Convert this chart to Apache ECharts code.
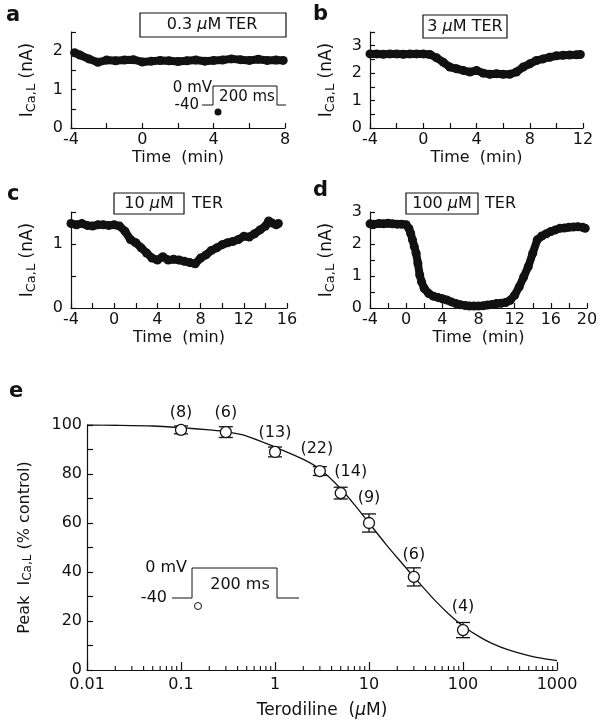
<!DOCTYPE html>
<html><head><meta charset="utf-8">
<script src="https://cdn.jsdelivr.net/npm/echarts@6/dist/echarts.min.js"></script>
<style>html,body{margin:0;padding:0;background:#fff}#c{width:601px;height:726px}</style>
</head><body><div id="c"></div>
<script>
// ---- Panel a: 0.3 uM TER ----
const aT = [-3.8,-3.5,-3,-2.5,-2,-1.5,-1,-0.5,0,0.5,1,1.5,2,2.5,3,3.5,4,4.5,5,5.5,6,6.5,7,7.5,7.9];
const aV = [1.96,1.9,1.8,1.71,1.77,1.75,1.77,1.78,1.72,1.74,1.76,1.75,1.73,1.75,1.77,1.74,1.76,1.77,1.8,1.78,1.76,1.79,1.76,1.77,1.76];
// ---- Panel b: 3 uM TER ----
const bT = [-4,-3.5,-3,-2.5,-2,-1.5,-1,-0.5,0,0.5,1,1.5,2,2.5,3,3.5,4,4.5,5,5.5,6,6.5,7,7.5,8,8.5,9,9.5,10,10.5,11,11.5,11.8];
const bV = [2.7,2.7,2.69,2.7,2.7,2.69,2.7,2.7,2.7,2.68,2.56,2.4,2.22,2.16,2.1,2.04,2.1,2.0,1.96,1.98,1.96,1.96,2.04,2.22,2.34,2.46,2.52,2.58,2.63,2.65,2.66,2.67,2.68];
// ---- Panel c: 10 uM TER ----
const cT = [-4,-3.5,-3,-2.5,-2,-1.5,-1,-0.5,0,0.5,1,1.5,2,2.5,3,3.5,4,4.5,5,5.5,6,6.5,7,7.5,8,8.5,9,9.5,10,10.5,11,11.5,12,12.5,13,13.5,14,14.3,14.6,15,15.2];
const cV = [1.32,1.3,1.32,1.29,1.28,1.3,1.3,1.29,1.3,1.28,1.2,1.07,1.02,0.94,0.86,0.78,0.75,0.8,0.75,0.76,0.75,0.73,0.71,0.69,0.78,0.83,0.9,0.94,0.99,1.02,1.04,1.07,1.12,1.11,1.16,1.22,1.28,1.36,1.33,1.3,1.32];
// ---- Panel d: 100 uM TER ----
const dT = [-4,-3.5,-3,-2.5,-2,-1.5,-1,-0.5,0,0.3,0.5,0.7,0.9,1.1,1.3,1.5,1.7,2,2.5,3,3.5,4,4.5,5,5.5,6,6.5,7,7.5,8,8.5,9,9.5,10,10.5,11,11.5,12,12.5,13,13.5,14,14.5,15,15.5,16,16.5,17,17.5,18,18.5,19,19.5,19.8];
const dV = [2.63,2.62,2.64,2.63,2.65,2.63,2.62,2.62,2.6,2.49,2.33,2.13,1.92,1.71,1.39,1.03,0.82,0.61,0.45,0.37,0.33,0.29,0.25,0.19,0.14,0.1,0.08,0.06,0.06,0.06,0.07,0.09,0.11,0.14,0.15,0.17,0.24,0.4,0.66,0.97,1.29,1.71,2.13,2.25,2.32,2.39,2.44,2.49,2.5,2.52,2.53,2.54,2.52,2.49];
// ---- Panel e: concentration-response ----
const eConc = [0.1,0.3,1,3,5,10,30,100];
const eMean = [98,97.1,89,81.2,72.2,60,38,16.3];
const eErr  = [1.6,2.2,2,1.8,2.4,3.7,3.7,3.1];
const eN    = ['(8)','(6)','(13)','(22)','(14)','(9)','(6)','(4)'];
const fitX = [0.01,0.02,0.05,0.1,0.2,0.3,0.5,1,2,3,5,7,10,15,20,30,50,70,100,150,200,300,500,700,1000];
const fitY = [100,99.9,99.6,98.9,98,97.3,95.5,91,86,82,74,67.5,60,51.5,45.8,38,28.5,23,18,13.5,11,8.3,5.9,4.7,3.8];
const eXLabels = ['0.01','0.1','1','10','100','1000'];

const FONT = "'DejaVu Sans', 'Liberation Sans', Arial, sans-serif";
const BLK = '#111';
const chart = echarts.init(document.getElementById('c'), null, {renderer:'canvas'});

const grids = [
  {left:71, top:32, width:214, height:96},
  {left:370, top:32, width:213, height:96},
  {left:71, top:212, width:216, height:96},
  {left:370, top:212, width:217, height:96},
  {left:87, top:425, width:470, height:245}
];
const axisLine = {show:true, onZero:false, lineStyle:{color:BLK, width:1.2}};
const tick = {show:true, inside:true, length:5, lineStyle:{color:BLK, width:1.2}};
const lab = {color:BLK, fontFamily:FONT, fontSize:16};
const yName = {
  fontFamily:FONT, color:BLK,
  rich:{n:{fontSize:17, fontFamily:FONT, color:BLK}, s:{fontSize:13, fontFamily:FONT, color:BLK, padding:[8,0,0,0]}}
};
function timeX(i, max){
  return {type:'value', gridIndex:i, min:-4, max:max, interval:2,
    axisLine, axisTick:tick, splitLine:{show:false},
    axisLabel:Object.assign({margin:4, formatter:v=> (v%4===0? String(v):'')}, lab),
    name:'Time  (min)', nameLocation:'middle', nameGap:22,
    nameTextStyle:{fontFamily:FONT, fontSize:16, color:BLK}};
}
function curY(i, max){
  return {type:'value', gridIndex:i, min:0, max:max, interval:0.5,
    axisLine, axisTick:tick, splitLine:{show:false},
    axisLabel:Object.assign({margin:8, formatter:v=> (Number.isInteger(v)? String(v):'')}, lab),
    name:'{n|I}{s|Ca,L}{n| (nA)}', nameLocation:'middle', nameGap:33, nameTextStyle:yName};
}
function trace(i, T, V){
  return {type:'line', xAxisIndex:i, yAxisIndex:i, data:T.map((t,k)=>[t,V[k]]),
    symbol:'circle', symbolSize:9, showSymbol:true,
    itemStyle:{color:BLK, opacity:1}, lineStyle:{color:BLK, width:8, opacity:1}, animation:false, z:3};
}
const labDist = [3,5,5,8,7,11,8,9];
// minor log ticks (2..9 per decade)
const minorLog = [];
for (let d=0.01; d<1000; d*=10) for (let m=2; m<=9; m++) minorLog.push(+(d*m).toPrecision(3));

const option = {
  animation:false,
  backgroundColor:'#fff',
  grid:grids,
  xAxis:[timeX(0,8), timeX(1,12), timeX(2,16), timeX(3,20),
    {type:'log', gridIndex:4, min:0.01, max:1000, logBase:10,
     axisLine, axisTick:{show:true, inside:true, length:8, lineStyle:{color:BLK, width:1.2}},
     splitLine:{show:false}, minorTick:{show:false},
     axisLabel:Object.assign({margin:7, formatter:v=>{const e=Math.round(Math.log10(v)); return eXLabels[e+2];}}, lab),
     name:'{n|Terodiline  (}{i|μ}{n|M)}', nameLocation:'middle', nameGap:32,
     nameTextStyle:{rich:{n:{fontFamily:FONT, fontSize:17, color:BLK}, i:{fontFamily:FONT, fontSize:17, fontStyle:'italic', color:BLK}}}}
  ],
  yAxis:[curY(0,2.5), curY(1,3.5), curY(2,1.5), curY(3,3),
    {type:'value', gridIndex:4, min:0, max:100, interval:10,
     axisLine, axisTick:{show:true, inside:true, length:6, lineStyle:{color:BLK, width:1.2}}, splitLine:{show:false},
     axisLabel:Object.assign({margin:5, formatter:v=> (v%20===0? String(v):'')}, lab),
     name:'{n|Peak  I}{s|Ca,L}{n| (% control)}', nameLocation:'middle', nameGap:53,
     nameTextStyle:{fontFamily:FONT, color:BLK,
       rich:{n:{fontSize:16, fontFamily:FONT, color:BLK}, s:{fontSize:12, fontFamily:FONT, color:BLK, padding:[7,0,0,0]}}}}
  ],
  series:[
    trace(0,aT,aV), trace(1,bT,bV), trace(2,cT,cV), trace(3,dT,dV),
    {type:'line', xAxisIndex:4, yAxisIndex:4, data:fitX.map((x,k)=>[x,fitY[k]]), smooth:0.3,
     symbol:'none', lineStyle:{color:BLK, width:1.3}, z:2},
    {type:'custom', xAxisIndex:4, yAxisIndex:4, z:3,
     data:eConc.map((x,k)=>[x, eMean[k]-eErr[k], eMean[k]+eErr[k]]),
     encode:{x:0, y:[1,2]},
     renderItem:(p, api)=>{
       const x=api.value(0), lo=api.coord([x,api.value(1)]), hi=api.coord([x,api.value(2)]);
       const w=7, st={stroke:BLK, lineWidth:1.3};
       return {type:'group', children:[
         {type:'line', shape:{x1:lo[0],y1:lo[1],x2:hi[0],y2:hi[1]}, style:st},
         {type:'line', shape:{x1:lo[0]-w,y1:lo[1],x2:lo[0]+w,y2:lo[1]}, style:st},
         {type:'line', shape:{x1:hi[0]-w,y1:hi[1],x2:hi[0]+w,y2:hi[1]}, style:st}
       ]};
     }},
    {type:'scatter', xAxisIndex:4, yAxisIndex:4, z:4, symbol:'circle', symbolSize:11,
     itemStyle:{color:'#fff', borderColor:BLK, borderWidth:1.3, opacity:1},
     label:{show:true, position:'top', fontFamily:FONT, fontSize:16, color:BLK,
       formatter:p=>eN[p.dataIndex]},
     data:eConc.map((x,k)=>{
       const l={distance:labDist[k]};
       if (k===4) l.offset=[10,0];
       if (k===3) l.offset=[-3,0];
       return {value:[x,eMean[k]], label:l};
     })},
    {type:'custom', xAxisIndex:4, yAxisIndex:4, z:3, silent:true,
     data:minorLog.map(v=>[v,0]),
     renderItem:(p, api)=>{
       const q=api.coord([api.value(0),0]);
       return {type:'line', shape:{x1:q[0],y1:q[1],x2:q[0],y2:q[1]-4}, style:{stroke:BLK, lineWidth:1.1}};
     }}
  ],
  graphic:[
    // panel letters
    {type:'text', left:6, top:5, style:{text:'a', font:'bold 21px '+FONT, fill:BLK}},
    {type:'text', left:313, top:4, style:{text:'b', font:'bold 21px '+FONT, fill:BLK}},
    {type:'text', left:7, top:184, style:{text:'c', font:'bold 21px '+FONT, fill:BLK}},
    {type:'text', left:313, top:180, style:{text:'d', font:'bold 21px '+FONT, fill:BLK}},
    {type:'text', left:9, top:381, style:{text:'e', font:'bold 21px '+FONT, fill:BLK}},
    // drug boxes
    {type:'rect', shape:{x:140,y:13,width:146,height:24}, style:{fill:'#fff', stroke:BLK, lineWidth:1.2}},
    {type:'text', x:212, y:25, style:{text:'{n|0.3 }{i|μ}{n|M TER}', align:'center', verticalAlign:'middle',
      rich:{n:{font:'16px '+FONT, fill:BLK}, i:{font:'italic 16px '+FONT, fill:BLK}}}},
    {type:'rect', shape:{x:423,y:15,width:84,height:23}, style:{fill:'#fff', stroke:BLK, lineWidth:1.2}},
    {type:'text', x:465, y:27, style:{text:'{n|3 }{i|μ}{n|M TER}', align:'center', verticalAlign:'middle',
      rich:{n:{font:'16px '+FONT, fill:BLK}, i:{font:'italic 16px '+FONT, fill:BLK}}}},
    {type:'rect', shape:{x:114,y:193,width:70,height:21}, style:{fill:'#fff', stroke:BLK, lineWidth:1.2}},
    {type:'text', x:149, y:204, style:{text:'{n|10 }{i|μ}{n|M}', align:'center', verticalAlign:'middle',
      rich:{n:{font:'16px '+FONT, fill:BLK}, i:{font:'italic 16px '+FONT, fill:BLK}}}},
    {type:'text', x:192, y:204, style:{text:'TER', font:'16px '+FONT, fill:BLK, verticalAlign:'middle'}},
    {type:'rect', shape:{x:406,y:193,width:72,height:21}, style:{fill:'#fff', stroke:BLK, lineWidth:1.2}},
    {type:'text', x:442, y:204, style:{text:'{n|100 }{i|μ}{n|M}', align:'center', verticalAlign:'middle',
      rich:{n:{font:'16px '+FONT, fill:BLK}, i:{font:'italic 16px '+FONT, fill:BLK}}}},
    {type:'text', x:485, y:204, style:{text:'TER', font:'16px '+FONT, fill:BLK, verticalAlign:'middle'}},
    // inset a: voltage protocol
    {type:'polyline', shape:{points:[[202,105],[213,105],[213,86],[277,86],[277,105],[286,105]]}, style:{stroke:BLK, lineWidth:1, fill:null}},
    {type:'text', x:212, y:88, style:{text:'0 mV', font:'15px '+FONT, fill:BLK, align:'right', verticalAlign:'middle'}},
    {type:'text', x:199, y:105, style:{text:'-40', font:'15px '+FONT, fill:BLK, align:'right', verticalAlign:'middle'}},
    {type:'text', x:247, y:97, style:{text:'200 ms', font:'15px '+FONT, fill:BLK, align:'center', verticalAlign:'middle'}},
    {type:'circle', shape:{cx:218, cy:112, r:3.5}, style:{fill:BLK}},
    // inset e
    {type:'polyline', shape:{points:[[172,598],[192,598],[192,568],[277,568],[277,598],[299,598]]}, style:{stroke:BLK, lineWidth:1, fill:null}},
    {type:'text', x:187, y:568, style:{text:'0 mV', font:'16px '+FONT, fill:BLK, align:'right', verticalAlign:'middle'}},
    {type:'text', x:167, y:598, style:{text:'-40', font:'16px '+FONT, fill:BLK, align:'right', verticalAlign:'middle'}},
    {type:'text', x:240, y:585, style:{text:'200 ms', font:'16px '+FONT, fill:BLK, align:'center', verticalAlign:'middle'}},
    {type:'circle', shape:{cx:198, cy:606, r:3.5}, style:{fill:'#fff', stroke:BLK, lineWidth:1}}
  ]
};
chart.setOption(option);
</script></body></html>
